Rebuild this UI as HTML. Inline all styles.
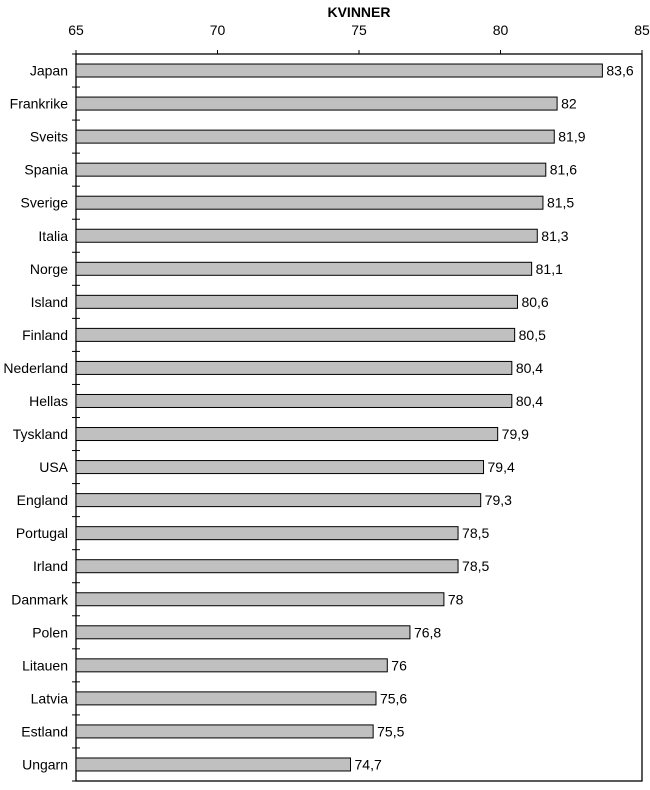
<!DOCTYPE html>
<html><head><meta charset="utf-8"><style>
body{margin:0;background:#fff;}
svg text{font-family:"Liberation Sans",Arial,sans-serif;font-size:14px;fill:#000;}
</style></head><body>
<svg width="650" height="785">
<text x="359" y="17" text-anchor="middle" font-weight="bold" style="font-size:14px">KVINNER</text>
<g id="g"></g>
</svg>
<script>
const categories=["Japan","Frankrike","Sveits","Spania","Sverige","Italia","Norge","Island","Finland","Nederland","Hellas","Tyskland","USA","England","Portugal","Irland","Danmark","Polen","Litauen","Latvia","Estland","Ungarn"];
const values=[83.6,82,81.9,81.6,81.5,81.3,81.1,80.6,80.5,80.4,80.4,79.9,79.4,79.3,78.5,78.5,78,76.8,76,75.6,75.5,74.7];
const valueLabels=["83,6","82","81,9","81,6","81,5","81,3","81,1","80,6","80,5","80,4","80,4","79,9","79,4","79,3","78,5","78,5","78","76,8","76","75,6","75,5","74,7"];
const ticks=[65,70,75,80,85];
const NS="http://www.w3.org/2000/svg",g=document.getElementById('g');
const L=76,R=642,T=54,B=781,xmin=65,xmax=85;
const x=v=>L+(v-xmin)/(xmax-xmin)*(R-L);
const bw=(B-T)/categories.length;
function el(t,a){const e=document.createElementNS(NS,t);for(const k in a)e.setAttribute(k,a[k]);g.appendChild(e);return e;}
const frame=el('rect',{x:L,y:T,width:R-L,height:B-T,fill:'#fff',stroke:'#000','stroke-width':1.3});


ticks.forEach(t=>{
 const l=el('line',{x1:x(t),x2:x(t),y1:T-4,y2:T,stroke:'#000'});
 
 
 const tx=el('text',{x:x(t),y:35,'text-anchor':'middle'});tx.textContent=t;
 
 
});
for(let i=0;i<=categories.length;i++){
 const y=T+i*bw;
 const l=el('line',{x1:L-4,x2:L+4,y1:y,y2:y,stroke:'#000'});
 
 
}
categories.forEach((c,i)=>{
 const cy=T+(i+0.5)*bw;
 const r=el('rect',{x:L,y:cy-6.5,width:x(values[i])-L,height:13,fill:'#c0c0c0',stroke:'#000','stroke-width':1});
 
 
 const lt=el('text',{x:L-8,y:cy+5,'text-anchor':'end'});lt.textContent=c;
 
 
 const vt=el('text',{x:x(values[i])+4,y:cy+5});vt.textContent=valueLabels[i];
 
 
});
</script>
</body></html>
